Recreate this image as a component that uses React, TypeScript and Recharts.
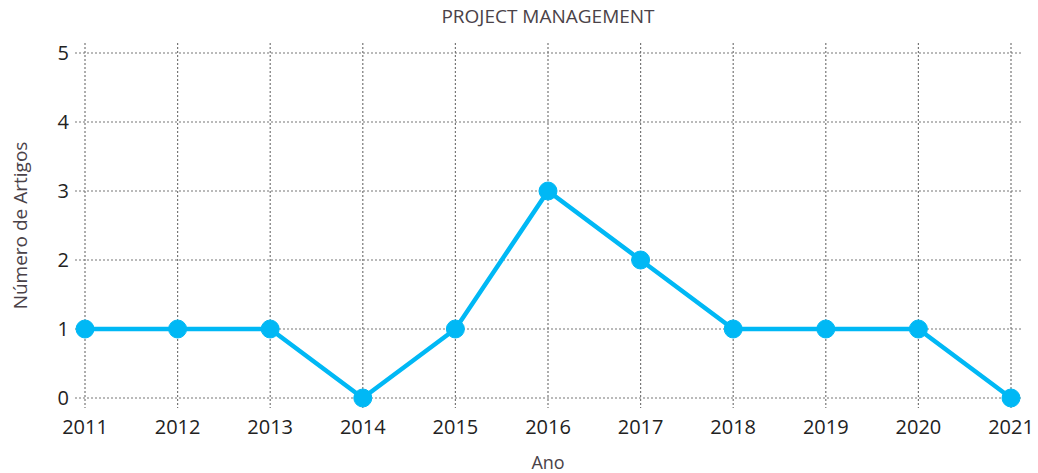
import React from "react";
import { LineChart, Line, XAxis, YAxis, CartesianGrid, Label } from "recharts";

const years = ["2011", "2012", "2013", "2014", "2015", "2016", "2017", "2018", "2019", "2020", "2021"];
const articles = [1, 1, 1, 0, 1, 3, 2, 1, 1, 1, 0];
const yTicks = [0, 1, 2, 3, 4, 5];

const data = years.map((y, i) => ({ year: y, value: articles[i] }));

const FONT = "'Open Sans', sans-serif";
const PAD = 10;

const hGen = ({ offset }: any) => {
  const top = offset.top + PAD;
  const h = offset.height - 2 * PAD;
  const max = yTicks[yTicks.length - 1];
  return yTicks.map((t) => top + ((max - t) / max) * h);
};

const vGen = ({ offset }: any) => {
  const left = offset.left + PAD;
  const w = offset.width - 2 * PAD;
  const n = years.length - 1;
  return years.map((_, i) => left + (i / n) * w);
};

export default function App() {
  return (
    <div style={{ position: "absolute", left: 0, top: 0, width: 1038, height: 473, background: "#fff", fontFamily: FONT }}>
      <div
        style={{
          position: "absolute",
          top: 3,
          left: 0,
          width: 1096,
          textAlign: "center",
          fontSize: 19,
          color: "#4a4248",
        }}
      >
        PROJECT MANAGEMENT
      </div>
      <LineChart width={1038} height={473} data={data} margin={{ top: 43, right: 17, left: 0, bottom: 0 }}>
        <CartesianGrid
          stroke="#777"
          strokeDasharray="2 2"
          strokeWidth={1.2}
          horizontalCoordinatesGenerator={hGen}
          verticalCoordinatesGenerator={vGen}
        />
        <XAxis
          dataKey="year"
          axisLine={false}
          tickLine={false}
          padding={{ left: PAD, right: PAD }}
          height={65}
          tickMargin={6}
          tick={{ fill: "#222", fontSize: 20, fontFamily: FONT }}
          interval={0}
        >
          <Label value="Ano" position="insideBottom" offset={4} style={{ fill: "#4a4248", fontSize: 18, fontFamily: FONT }} />
        </XAxis>
        <YAxis
          type="number"
          domain={[0, 5]}
          ticks={yTicks}
          axisLine={false}
          tickLine={false}
          padding={{ top: PAD, bottom: PAD }}
          width={75}
          tickMargin={0}
          tick={{ fill: "#222", fontSize: 20, fontFamily: FONT }}
        >
          <Label value="Número de Artigos" angle={-90} position="insideLeft" offset={20} style={{ textAnchor: "middle", fill: "#4a4248", fontSize: 19, fontFamily: FONT }} />
        </YAxis>
        <Line
          type="linear"
          dataKey="value"
          stroke="#00b8f5"
          strokeWidth={4.5}
          dot={{ r: 9, fill: "#00b8f5", stroke: "#00b8f5", strokeWidth: 1 }}
          activeDot={false}
          isAnimationActive={false}
        />
      </LineChart>
    </div>
  );
}
